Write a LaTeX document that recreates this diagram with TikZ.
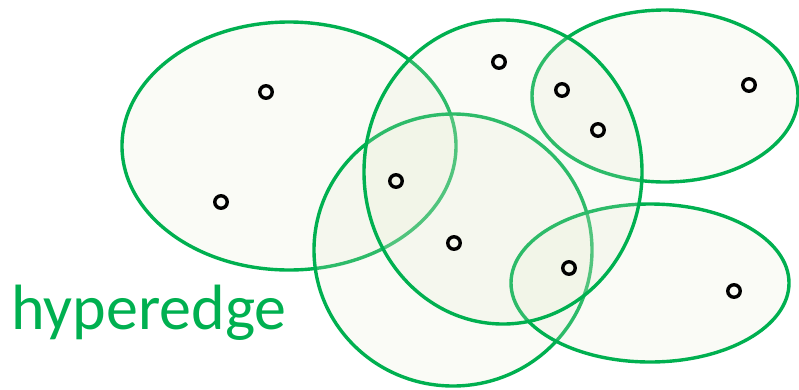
\documentclass[tikz,border=0pt]{standalone}
\usepackage{fontspec}
\setmainfont{Carlito}
\usepackage{tikz}
\usepackage{xcolor}
\definecolor{hgreen}{HTML}{00B050}
\definecolor{hfill}{RGB}{228,234,208}

\begin{document}
\begin{tikzpicture}[x=1pt,y=-1pt,line cap=round,
  hedge/.style={draw=hgreen,line width=3.4pt,fill=hfill,fill opacity=0.2,draw opacity=1},
  vert/.style={circle,draw=black,line width=3.4pt,minimum size=12.5pt,inner sep=0pt}]
\useasboundingbox (0,0) rectangle (799,389);
\draw[hedge] (289,146) ellipse (167 and 124);
\draw[hedge] (665,96) ellipse (133 and 86);
\draw[hedge] (453,250) ellipse (139 and 136);
\draw[hedge] (650,283) ellipse (139 and 79);
\draw[hedge] (503,172) ellipse (139 and 152);
\node[vert] (v1) at (266,92) {};
\node[vert] (v2) at (221,202) {};
\node[vert] (v3) at (499,62) {};
\node[vert] (v4) at (562,90) {};
\node[vert] (v5) at (598,130) {};
\node[vert] (v6) at (749,85) {};
\node[vert] (v7) at (396,181) {};
\node[vert] (v8) at (454,243) {};
\node[vert] (v9) at (569,268) {};
\node[vert] (v10) at (734,291) {};
\node[anchor=base west,inner sep=0pt,text=hgreen,font=\fontsize{64}{64}\selectfont] (lbl) at (11,329) {hyperedge};
\end{tikzpicture}
\end{document}
